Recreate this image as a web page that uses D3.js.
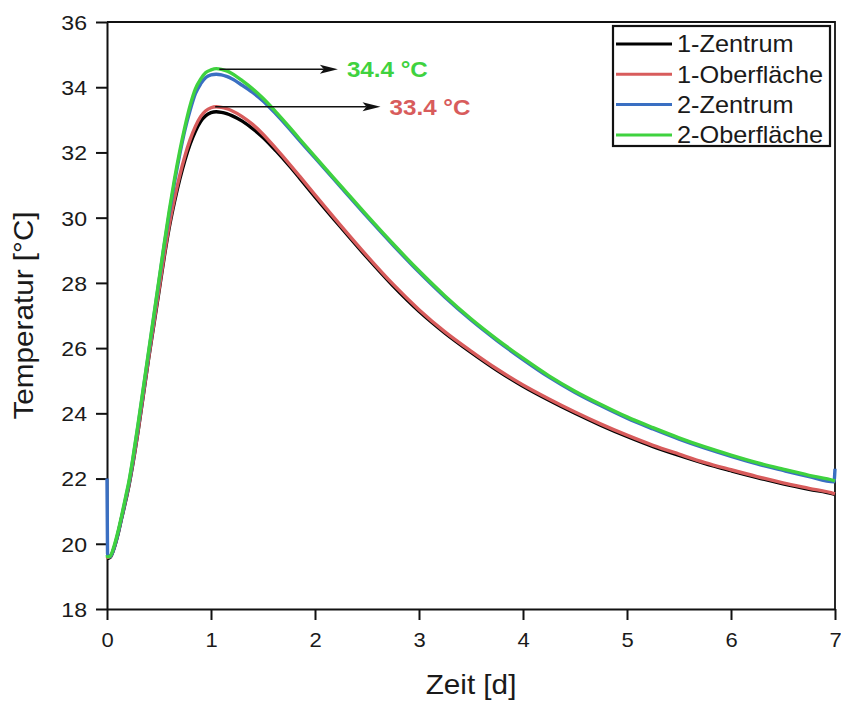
<!DOCTYPE html>
<html><head><meta charset="utf-8">
<script src="https://cdn.jsdelivr.net/npm/d3@7"></script>
<style>body{margin:0;background:#fff}</style>
</head><body>
<svg id="chart" width="841" height="704"></svg>
<script>
const timeDays = [0, 0.005, 0.03, 0.07, 0.10, 0.14, 0.18, 0.21, 0.25, 0.30, 0.35, 0.40, 0.45, 0.50, 0.55, 0.60, 0.65, 0.70, 0.75, 0.80, 0.85, 0.90, 0.95, 1.00, 1.05, 1.10, 1.15, 1.20, 1.30, 1.40, 1.50, 1.63, 1.75, 1.85, 2.00, 2.25, 2.50, 2.75, 3.00, 3.25, 3.50, 3.75, 4.00, 4.25, 4.50, 4.75, 5.00, 5.25, 5.50, 5.75, 6.00, 6.25, 6.50, 6.75, 6.99, 7.00];

const zentrum1 = [19.55, 19.55, 19.58, 19.88, 20.22, 20.77, 21.32, 21.77, 22.47, 23.47, 24.57, 25.67, 26.7, 27.74, 28.78, 29.72, 30.5, 31.18, 31.77, 32.26, 32.65, 32.95, 33.13, 33.22, 33.25, 33.23, 33.19, 33.13, 32.96, 32.73, 32.46, 32.03, 31.6, 31.22, 30.64, 29.7, 28.78, 27.91, 27.13, 26.46, 25.87, 25.32, 24.83, 24.4, 24.0, 23.63, 23.29, 22.98, 22.71, 22.46, 22.24, 22.03, 21.84, 21.67, 21.52, 21.51];

const oberflaeche1 = [19.6, 19.58, 19.6, 19.9, 20.25, 20.8, 21.35, 21.8, 22.5, 23.5, 24.6, 25.7, 26.75, 27.8, 28.85, 29.8, 30.6, 31.3, 31.9, 32.4, 32.8, 33.1, 33.28, 33.37, 33.4, 33.38, 33.34, 33.28, 33.1, 32.86, 32.56, 32.1, 31.66, 31.28, 30.7, 29.75, 28.83, 27.96, 27.18, 26.5, 25.91, 25.36, 24.87, 24.44, 24.04, 23.67, 23.33, 23.02, 22.75, 22.49, 22.27, 22.06, 21.87, 21.7, 21.54, 21.53];

const zentrum2 = [22.0, 19.7, 19.6, 19.9, 20.25, 20.8, 21.4, 21.85, 22.6, 23.65, 24.75, 25.85, 26.95, 28.05, 29.15, 30.15, 31.1, 31.95, 32.7, 33.3, 33.8, 34.1, 34.3, 34.38, 34.4, 34.38, 34.33, 34.26, 34.06, 33.84, 33.58, 33.16, 32.74, 32.37, 31.83, 30.93, 30.03, 29.16, 28.33, 27.56, 26.86, 26.23, 25.65, 25.11, 24.64, 24.23, 23.85, 23.52, 23.21, 22.93, 22.68, 22.45, 22.25, 22.06, 21.9, 22.3];

const oberflaeche2 = [19.65, 19.6, 19.62, 19.95, 20.3, 20.85, 21.45, 21.9, 22.65, 23.7, 24.8, 25.9, 27.0, 28.1, 29.2, 30.25, 31.2, 32.05, 32.8, 33.45, 33.95, 34.25, 34.45, 34.53, 34.57, 34.55, 34.5, 34.42, 34.2, 33.95, 33.66, 33.22, 32.79, 32.42, 31.87, 30.97, 30.07, 29.2, 28.37, 27.6, 26.9, 26.27, 25.69, 25.15, 24.68, 24.27, 23.89, 23.56, 23.25, 22.97, 22.72, 22.49, 22.29, 22.1, 21.94, 21.93];

const seriesNames = ["1-Zentrum", "1-Oberfläche", "2-Zentrum", "2-Oberfläche"];
const seriesValues = [zentrum1, oberflaeche1, zentrum2, oberflaeche2];
const seriesColors = ["#000000", "#d85c5c", "#3a6fc2", "#3fd23f"];

const xTicks = [0, 1, 2, 3, 4, 5, 6, 7];
const xMinorTicks = [0.5, 1.5, 2.5, 3.5, 4.5, 5.5, 6.5];
const yTicks = [18, 20, 22, 24, 26, 28, 30, 32, 34, 36];
const yMinorTicks = [19, 21, 23, 25, 27, 29, 31, 33, 35];

const peakTimes = [1.08, 1.04];
const peakValues = [34.55, 33.4];
const arrowEndTimes = [2.22, 2.63];
const peakLabels = ["34.4 °C", "33.4 °C"];
const peakColors = ["#3fd23f", "#d85c5c"];

const xTitle = "Zeit [d]";
const yTitle = "Temperatur [°C]";

const W = 841, H = 704;
const margin = {left: 107, right: 6, top: 22, bottom: 95};
const FONT = "'Liberation Sans', Arial, sans-serif";
const SX = 1.1;

const svg = d3.select("#chart");
const x = d3.scaleLinear().domain([0, 7]).range([margin.left, W - margin.right]);
const y = d3.scaleLinear().domain([18, 36]).range([H - margin.bottom, margin.top]);

// frame (top & right)
svg.append("path")
  .attr("d", `M${x(0)},${y(36)}H${x(7)}V${y(18)}`)
  .attr("fill", "none").attr("stroke", "#111").attr("stroke-width", 1.8);

// X axis
const gx = svg.append("g").attr("transform", `translate(0,${y(18)})`);
gx.call(d3.axisBottom(x).tickValues(xMinorTicks).tickSize(6).tickFormat("").tickSizeOuter(0));
gx.call(d3.axisBottom(x).tickValues(xTicks).tickSize(11).tickSizeOuter(0).tickFormat(d3.format("d")));
gx.selectAll("path, line").attr("stroke", "#111").attr("stroke-width", 2);
gx.selectAll("text")
  .attr("y", null).attr("dy", null)
  .attr("transform", `translate(0,38) scale(${SX},1)`)
  .attr("font-family", FONT).attr("font-size", 20).attr("fill", "#1a1a1a");

// Y axis
const gy = svg.append("g").attr("transform", `translate(${x(0)},0)`);
gy.call(d3.axisLeft(y).tickValues(yMinorTicks).tickSize(6).tickFormat("").tickSizeOuter(0));
gy.call(d3.axisLeft(y).tickValues(yTicks).tickSize(11).tickSizeOuter(0).tickFormat(d3.format("d")));
gy.selectAll("path, line").attr("stroke", "#111").attr("stroke-width", 2);
gy.selectAll("text")
  .attr("x", null).attr("dy", "0.35em")
  .attr("transform", `translate(-20,0) scale(${SX},1)`)
  .attr("font-family", FONT).attr("font-size", 21).attr("fill", "#1a1a1a");

// axis titles
svg.append("text")
  .attr("transform", `translate(${(x(0) + x(7)) / 2},${H - 10}) scale(${SX},1)`)
  .attr("text-anchor", "middle").attr("font-family", FONT).attr("font-size", 27)
  .attr("fill", "#1a1a1a").text(xTitle);
svg.append("text")
  .attr("transform", `translate(33,${(y(18) + y(36)) / 2}) rotate(-90) scale(${SX},1)`)
  .attr("text-anchor", "middle").attr("font-family", FONT).attr("font-size", 27)
  .attr("fill", "#1a1a1a").text(yTitle);

// lines
const line = d3.line().x((d, i) => x(timeDays[i])).y(d => y(d)).curve(d3.curveMonotoneX);
seriesValues.forEach((vals, k) => {
  svg.append("path").datum(vals)
    .attr("d", line)
    .attr("fill", "none")
    .attr("stroke", seriesColors[k])
    .attr("stroke-width", 3.4)
    .attr("stroke-linejoin", "round");
});

// annotations
peakTimes.forEach((t, i) => {
  const x0 = x(t), x1 = x(arrowEndTimes[i]), yy = y(peakValues[i]);
  svg.append("line").attr("x1", x0).attr("y1", yy).attr("x2", x1 - 14).attr("y2", yy)
    .attr("stroke", "#111").attr("stroke-width", 1.6);
  svg.append("path")
    .attr("d", `M${x1},${yy}L${x1 - 18},${yy - 4.5}L${x1 - 14},${yy}L${x1 - 18},${yy + 4.5}Z`)
    .attr("fill", "#111");
  svg.append("text")
    .attr("transform", `translate(${x1 + 9},${yy}) scale(${SX},1)`)
    .attr("dy", "0.36em").attr("font-family", FONT).attr("font-size", 22)
    .attr("font-weight", "bold").attr("fill", peakColors[i]).text(peakLabels[i]);
});

// legend
const lg = svg.append("g");
lg.append("rect").attr("x", 613).attr("y", 26).attr("width", 217).attr("height", 120)
  .attr("fill", "#fff").attr("stroke", "#111").attr("stroke-width", 2.2);
seriesNames.forEach((name, i) => {
  const yy = 44 + i * 30.3;
  lg.append("line").attr("x1", 616).attr("x2", 672).attr("y1", yy).attr("y2", yy)
    .attr("stroke", seriesColors[i]).attr("stroke-width", 3);
  lg.append("text")
    .attr("transform", `translate(677,${yy}) scale(${SX},1)`)
    .attr("dy", "0.36em").attr("font-family", FONT).attr("font-size", 23)
    .attr("fill", "#1a1a1a").text(name);
});
</script>
</body></html>
